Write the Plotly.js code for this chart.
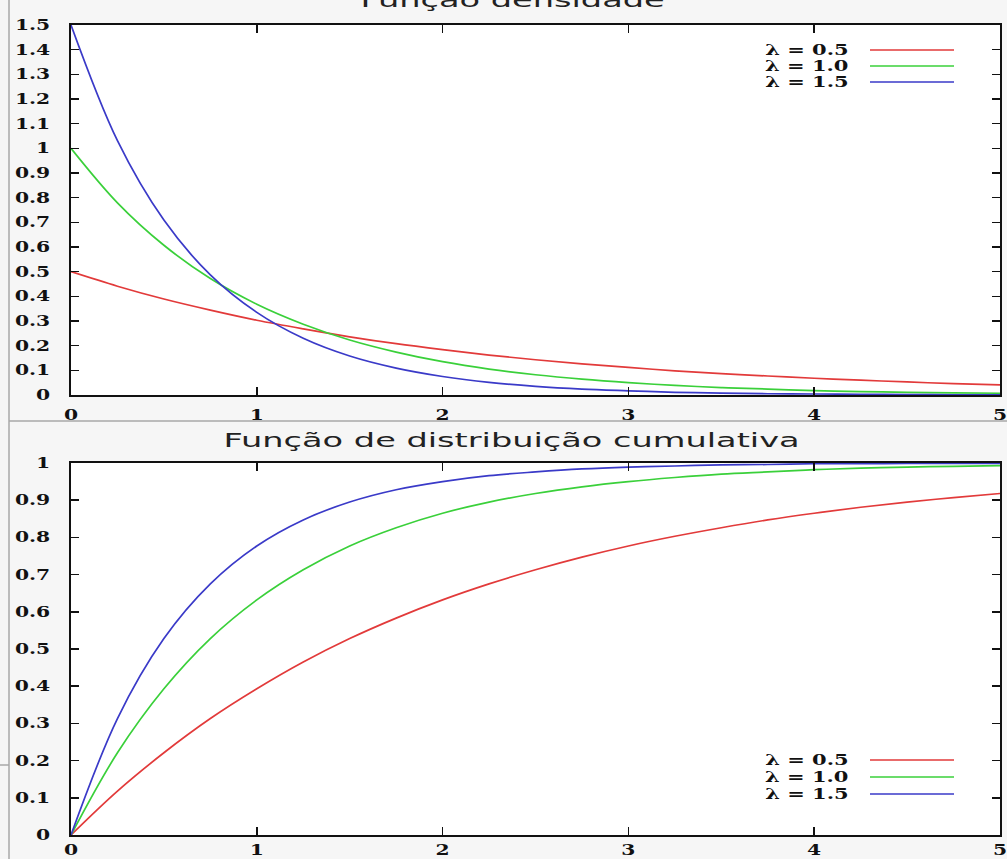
<!DOCTYPE html>
<html>
<head>
<meta charset="utf-8">
<script src="https://cdn.plot.ly/plotly-3.0.1.min.js"></script>
<style>
html,body{margin:0;padding:0;background:#f6f6f6;}
#chart{width:1007px;height:859px;}
</style>
</head>
<body>
<div id="chart"></div>
<script>
// x sample points
const xValues = [0,0.25,0.5,0.75,1,1.25,1.5,1.75,2,2.25,2.5,2.75,3,3.25,3.5,3.75,4,4.25,4.5,4.75,5];
// density values
const pdf05 = [0.5,0.441,0.389,0.344,0.303,0.268,0.236,0.208,0.184,0.162,0.143,0.126,0.112,0.098,0.087,0.077,0.068,0.060,0.053,0.046,0.041];
const pdf10 = [1.0,0.779,0.607,0.472,0.368,0.287,0.223,0.174,0.135,0.105,0.082,0.064,0.050,0.039,0.030,0.024,0.018,0.014,0.011,0.009,0.007];
const pdf15 = [1.5,1.031,0.709,0.487,0.335,0.230,0.158,0.109,0.075,0.051,0.035,0.024,0.017,0.011,0.008,0.005,0.004,0.003,0.002,0.001,0.001];
// cumulative values
const cdf05 = [0,0.118,0.221,0.313,0.393,0.465,0.528,0.583,0.632,0.675,0.713,0.747,0.777,0.803,0.826,0.847,0.865,0.881,0.895,0.907,0.918];
const cdf10 = [0,0.221,0.393,0.528,0.632,0.713,0.777,0.826,0.865,0.895,0.918,0.936,0.950,0.961,0.970,0.976,0.982,0.986,0.989,0.991,0.993];
const cdf15 = [0,0.313,0.528,0.675,0.777,0.847,0.895,0.928,0.950,0.966,0.976,0.984,0.989,0.992,0.995,0.996,0.998,0.998,0.999,0.999,0.999];
const seriesLabels = ["λ = 0.5","λ = 1.0","λ = 1.5"];
const topTitle = "Função densidade";
const bottomTitle = "Função de distribuição cumulativa";

const colors = ["#e23a3a","#3ad03a","#3a3ac8"];
const W = 1007, H = 859;
const px = v => v / W;
const py = v => 1 - v / H;

const pdfs = [pdf05, pdf10, pdf15];
const cdfs = [cdf05, cdf10, cdf15];
const traces = [];
pdfs.forEach((ys, i) => traces.push({x: xValues, y: ys, type: 'scatter', mode: 'lines', xaxis: 'x', yaxis: 'y',
  line: {color: colors[i], width: 1.7, shape: 'spline', smoothing: 1}, showlegend: false, hoverinfo: 'skip'}));
cdfs.forEach((ys, i) => traces.push({x: xValues, y: ys, type: 'scatter', mode: 'lines', xaxis: 'x2', yaxis: 'y2',
  line: {color: colors[i], width: 1.7, shape: 'spline', smoothing: 1}, showlegend: false, hoverinfo: 'skip'}));

const serif = 'DejaVu Serif, Liberation Serif, serif';
const tickFont = {family: serif, size: 14, color: '#111', weight: 'bold'};
const axCommon = {showgrid: false, zeroline: false, showline: true, linecolor: '#111', linewidth: 2,
  mirror: 'ticks', ticks: 'inside', ticklen: 8, tickwidth: 1.5, tickcolor: '#111', tickfont: tickFont, fixedrange: true};
const xdom = [px(71), px(1000)];

const annotations = [];
const shapes = [];
function legend(rowsY) {
  seriesLabels.forEach((lab, i) => {
    annotations.push({text: lab, xref: 'paper', yref: 'paper', x: px(851), y: py(rowsY[i]), xanchor: 'right', yanchor: 'middle',
      showarrow: false, font: {family: serif, size: 14, color: '#111', weight: 'bold'}});
    shapes.push({type: 'line', xref: 'paper', yref: 'paper', x0: px(870), x1: px(954), y0: py(rowsY[i]), y1: py(rowsY[i]),
      line: {color: colors[i], width: 1.6}});
  });
}
legend([50, 66, 82]);
legend([760, 777, 794]);

annotations.push({text: topTitle, xref: 'paper', yref: 'paper', x: px(512), y: py(0), xanchor: 'center', yanchor: 'middle',
  showarrow: false, font: {family: 'DejaVu Sans, sans-serif', size: 20, color: '#222'}});
annotations.push({text: bottomTitle, xref: 'paper', yref: 'paper', x: px(511), y: py(440), xanchor: 'center', yanchor: 'middle',
  showarrow: false, font: {family: 'DejaVu Sans, sans-serif', size: 20, color: '#222'}});

// screenshot border lines
shapes.push({type: 'line', xref: 'paper', yref: 'paper', x0: px(9), x1: px(9), y0: 0, y1: 1, line: {color: '#a8a8a8', width: 1.5}});
shapes.push({type: 'line', xref: 'paper', yref: 'paper', x0: px(9), x1: 1, y0: py(421), y1: py(421), line: {color: '#a8a8a8', width: 1.5}});
shapes.push({type: 'line', xref: 'paper', yref: 'paper', x0: 0, x1: px(9), y0: py(765), y1: py(765), line: {color: '#a8a8a8', width: 1.5}});

const layout = {
  width: W, height: H,
  margin: {l: 0, r: 0, t: 0, b: 0},
  paper_bgcolor: '#f6f6f6', plot_bgcolor: '#ffffff',
  showlegend: false,
  xaxis: Object.assign({}, axCommon, {domain: xdom, anchor: 'y', range: [0, 5], dtick: 1, tick0: 0, ticklabelstandoff: 6}),
  yaxis: Object.assign({}, axCommon, {domain: [py(395), py(25)], anchor: 'x', range: [0, 1.5], dtick: 0.1, tick0: 0, ticklabelstandoff: 16}),
  xaxis2: Object.assign({}, axCommon, {domain: xdom, anchor: 'y2', range: [0, 5], dtick: 1, tick0: 0, ticklabelstandoff: 1}),
  yaxis2: Object.assign({}, axCommon, {domain: [py(835), py(463)], anchor: 'x2', range: [0, 1], dtick: 0.1, tick0: 0, ticklabelstandoff: 16}),
  annotations: annotations,
  shapes: shapes
};

// widen text horizontally about a fixed anchor (the reference picture is horizontally stretched)
function stretch(el, s, mode) {
  const bb = el.getBBox();
  let ax = bb.x + bb.width / 2;
  if (mode === 'right') ax = bb.x + bb.width;
  const prev = el.getAttribute('transform') || '';
  el.setAttribute('transform', prev + ' translate(' + ax + ',0) scale(' + s + ',1) translate(' + (-ax) + ',0)');
}

Plotly.newPlot('chart', traces, layout, {staticPlot: true, displayModeBar: false}).then(() => {
  const root = document.getElementById('chart');
  root.querySelectorAll('.ytick text, .y2tick text').forEach(t => stretch(t, 1.45, 'right'));
  root.querySelectorAll('.xtick text, .x2tick text').forEach(t => stretch(t, 1.45, 'center'));
  root.querySelectorAll('.annotation-text').forEach(t => {
    if (t.textContent === topTitle || t.textContent === bottomTitle) stretch(t, 1.68, 'center');
    else stretch(t, 1.5, 'right');
  });
});
</script>
</body>
</html>
